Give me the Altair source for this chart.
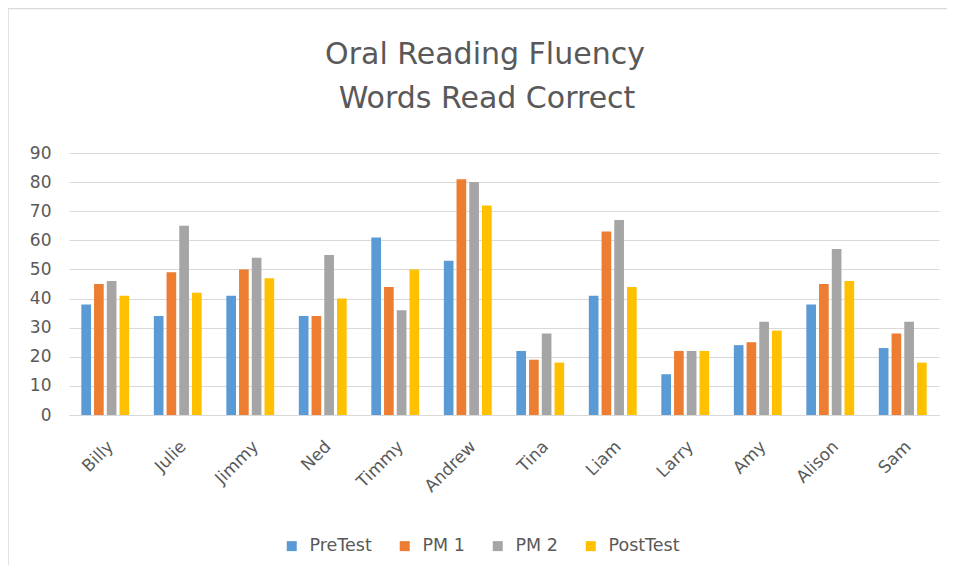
import altair as alt
import pandas as pd

students = ["Billy", "Julie", "Jimmy", "Ned", "Timmy", "Andrew", "Tina", "Liam", "Larry", "Amy", "Alison", "Sam"]
series = ["PreTest", "PM 1", "PM 2", "PostTest"]
pretest = [38, 34, 41, 34, 61, 53, 22, 41, 14, 24, 38, 23]
pm1 = [45, 49, 50, 34, 44, 81, 19, 63, 22, 25, 45, 28]
pm2 = [46, 65, 54, 55, 36, 80, 28, 67, 22, 32, 57, 32]
posttest = [41, 42, 47, 40, 50, 72, 18, 44, 22, 29, 46, 18]
colors = ["#5B9BD5", "#ED7D31", "#A5A5A5", "#FFC000"]
title_lines = ["Oral Reading Fluency", "Words Read Correct"]

rows = []
for name, vals in zip(series, [pretest, pm1, pm2, posttest]):
    for s, v in zip(students, vals):
        rows.append({"Student": s, "Series": name, "Value": v})
df = pd.DataFrame(rows)

W, H = 870, 262
FONT = "DejaVu Sans"
GREY = "#595959"

bars = alt.Chart(df).mark_bar().encode(
    x=alt.X("Student:N", sort=students,
            scale=alt.Scale(paddingInner=0.34, paddingOuter=0.17),
            axis=alt.Axis(title=None, labelAngle=-45, labelFontSize=17, labelColor=GREY,
                          labelFont=FONT, ticks=False, domainColor="#d9d9d9", labelPadding=23,
                          grid=False)),
    xOffset=alt.XOffset("Series:N", sort=series, scale=alt.Scale(paddingInner=0.24)),
    y=alt.Y("Value:Q", scale=alt.Scale(domain=[0, 90]),
            axis=alt.Axis(title=None, values=list(range(0, 100, 10)), labelFontSize=17,
                          labelColor=GREY, labelFont=FONT, ticks=False, domain=False,
                          gridColor="#d9d9d9", labelPadding=18)),
    color=alt.Color("Series:N", sort=series, scale=alt.Scale(domain=series, range=colors),
                    legend=alt.Legend(title=None, orient="none", direction="horizontal",
                                      legendX=214, legendY=384, symbolType="square",
                                      symbolSize=100, symbolStrokeWidth=0, labelOffset=9,
                                      labelFontSize=17.5, labelColor=GREY, labelFont=FONT,
                                      columnPadding=24, symbolOpacity=1)),
)

border = alt.Chart(pd.DataFrame({"a": [0]})).mark_rect(
    fill=None, stroke="#d9d9d9", strokeWidth=1.5, clip=False
).encode(
    x=alt.value(-61), x2=alt.value(W + 40), y=alt.value(-144.5), y2=alt.value(H + 200)
)

title1 = alt.Chart(pd.DataFrame({"t": [title_lines[0]]})).mark_text(
    font=FONT, fontSize=30, color=GREY, align="center", baseline="alphabetic"
).encode(text="t:N", x=alt.value(416), y=alt.value(-89))

title2 = alt.Chart(pd.DataFrame({"t": [title_lines[1]]})).mark_text(
    font=FONT, fontSize=30, color=GREY, align="center", baseline="alphabetic"
).encode(text="t:N", x=alt.value(418), y=alt.value(-45))

chart = alt.layer(border, title1, title2, bars).properties(
    width=W, height=H,
    padding={"left": 61, "top": 145, "right": 8, "bottom": 150},
    autosize=alt.AutoSizeParams(type="none"),
).configure_view(stroke=None)

chart.save("out.html", embed_options={"renderer": "svg", "actions": False})
